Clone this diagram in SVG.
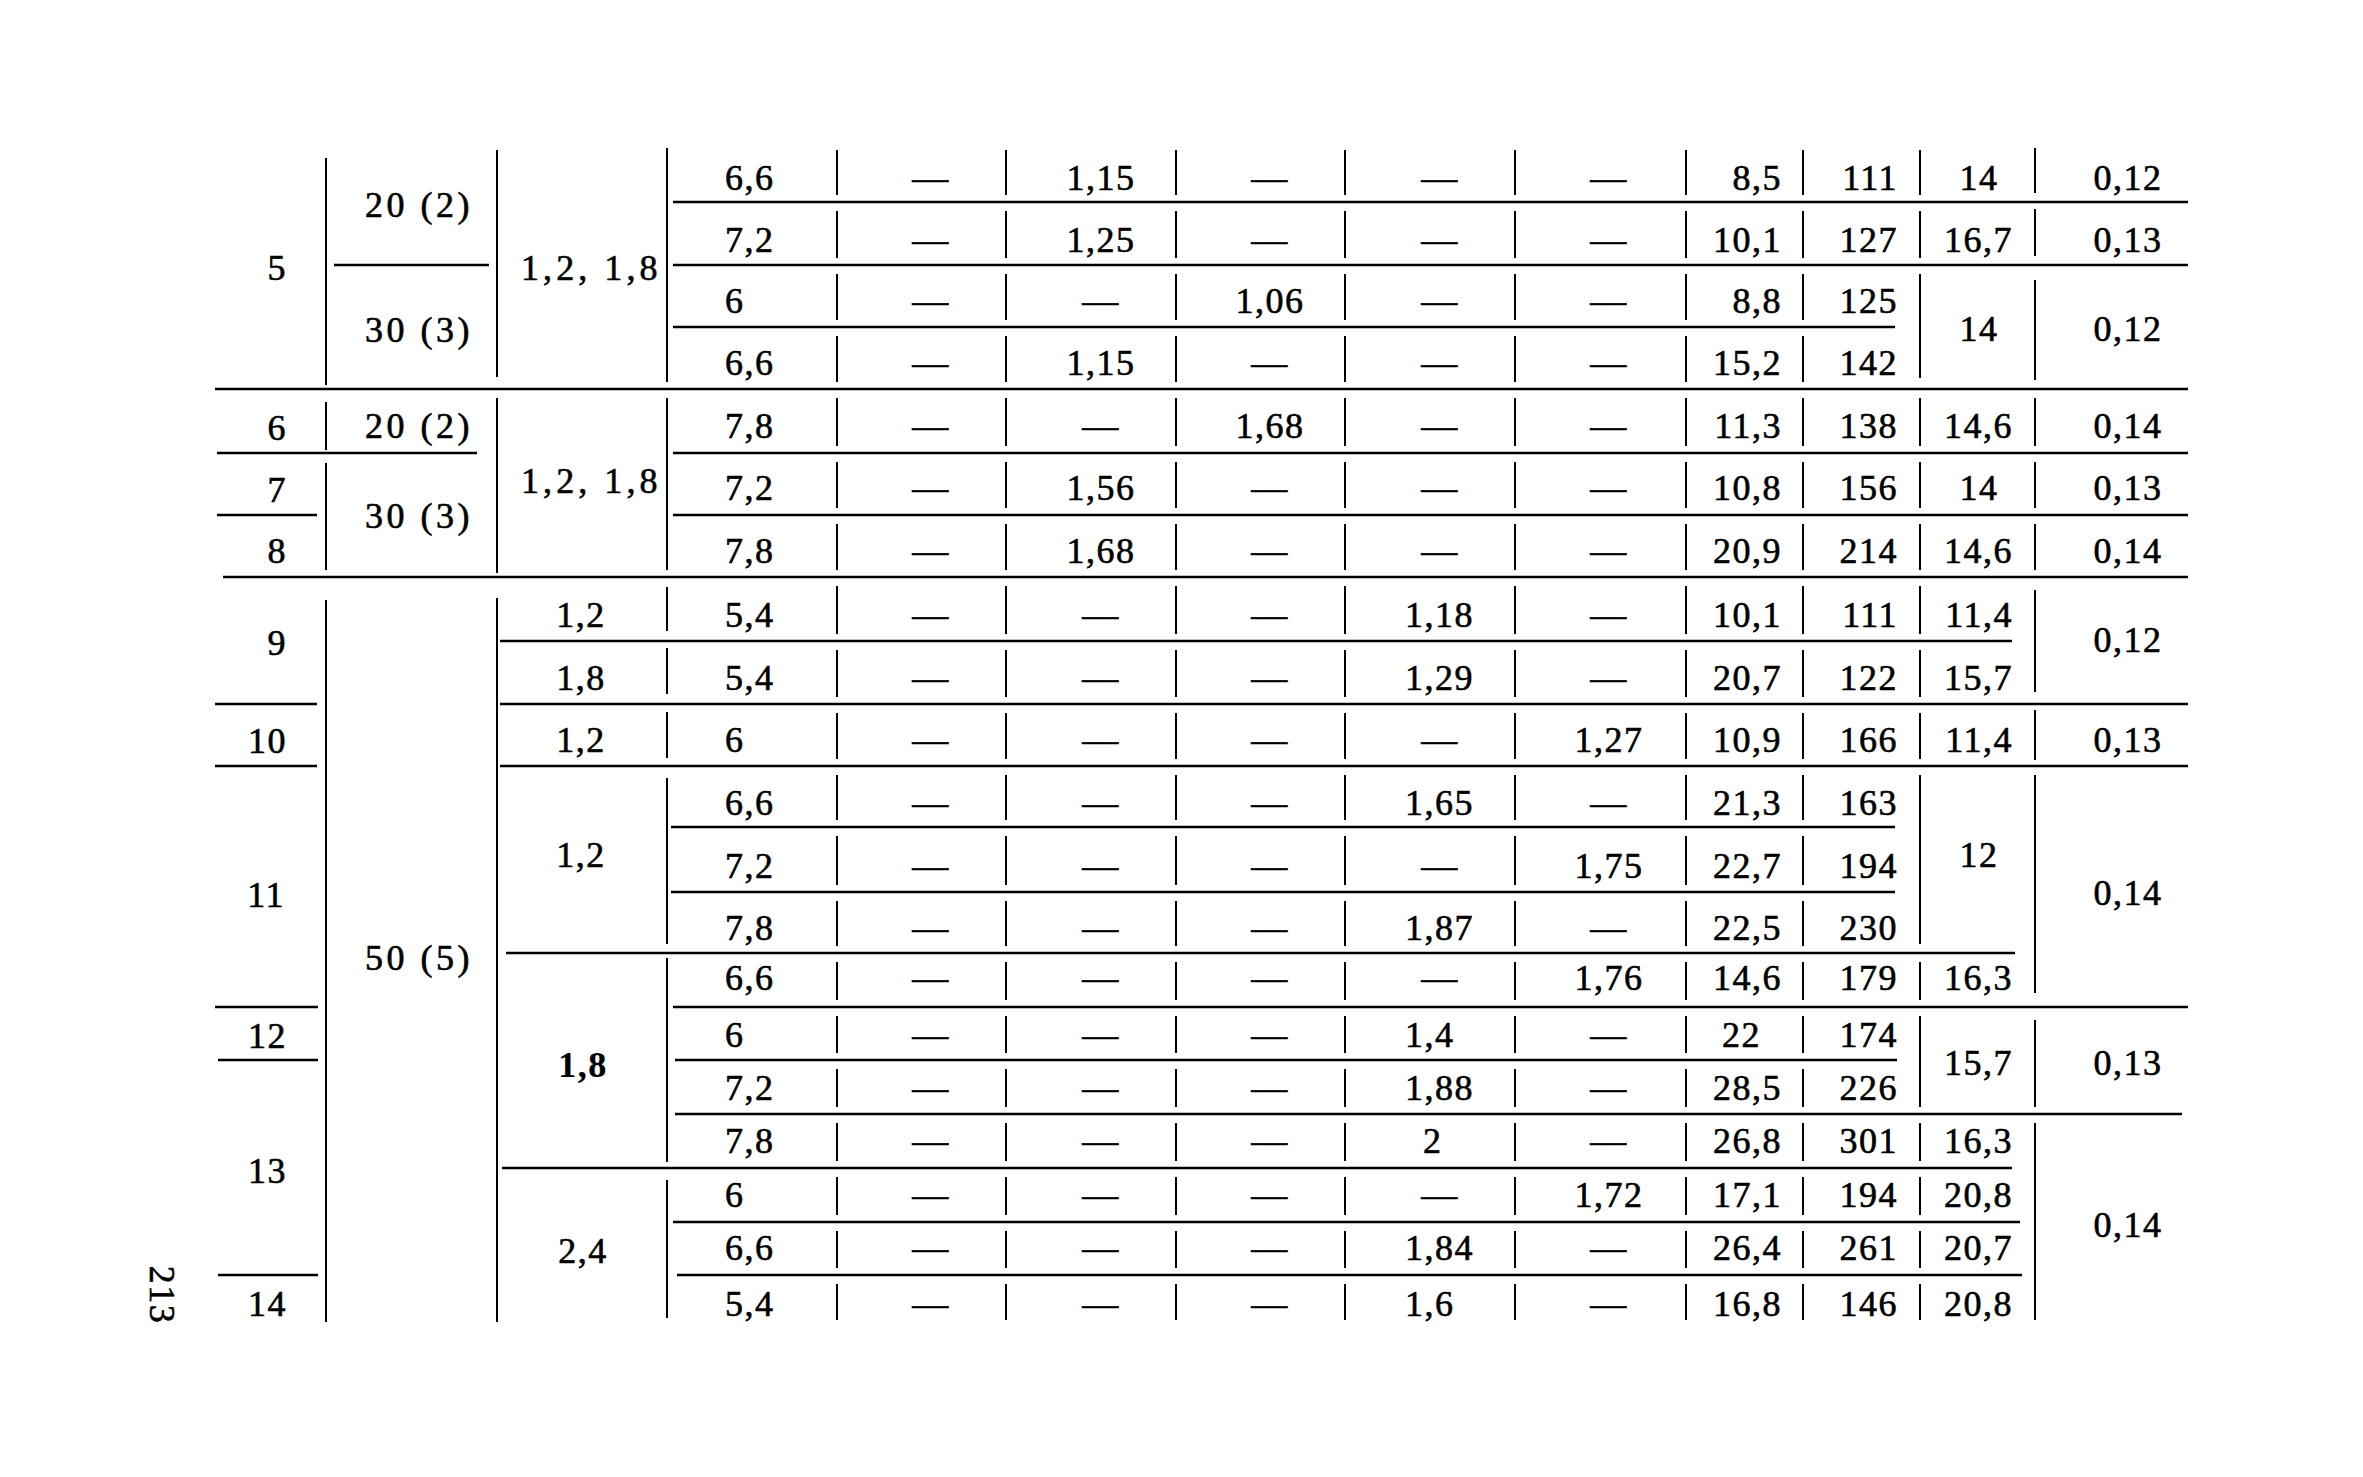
<svg xmlns="http://www.w3.org/2000/svg" width="2363" height="1477" viewBox="0 0 2363 1477">
<style>
text{font-family:"Liberation Serif","Times New Roman",serif;font-size:36px;fill:#000;stroke:#000;stroke-width:0.6;letter-spacing:1.5px}
.c{text-anchor:middle}
.e{text-anchor:end}
.b{font-weight:bold;stroke-width:0.2}
.h line{stroke:#000;stroke-width:2.6}
.v line{stroke:#000;stroke-width:2}
</style>
<rect width="2363" height="1477" fill="#fff"/>
<g id="rules">
<g class="h">
<line x1="673" y1="202" x2="2188" y2="202"/>
<line x1="334" y1="265" x2="489" y2="265"/>
<line x1="673" y1="265" x2="2188" y2="265"/>
<line x1="673" y1="327" x2="1895" y2="327"/>
<line x1="215" y1="389" x2="2188" y2="389"/>
<line x1="217" y1="453" x2="477" y2="453"/>
<line x1="673" y1="453" x2="2188" y2="453"/>
<line x1="217" y1="515" x2="317" y2="515"/>
<line x1="673" y1="515" x2="2188" y2="515"/>
<line x1="223" y1="577" x2="2188" y2="577"/>
<line x1="500" y1="641" x2="2012" y2="641"/>
<line x1="215" y1="704" x2="317" y2="704"/>
<line x1="500" y1="704" x2="2188" y2="704"/>
<line x1="215" y1="766" x2="317" y2="766"/>
<line x1="500" y1="766" x2="2188" y2="766"/>
<line x1="671" y1="827" x2="1895" y2="827"/>
<line x1="671" y1="892" x2="1895" y2="892"/>
<line x1="506" y1="953" x2="2015" y2="953"/>
<line x1="215" y1="1007" x2="318" y2="1007"/>
<line x1="673" y1="1007" x2="2188" y2="1007"/>
<line x1="218" y1="1060" x2="318" y2="1060"/>
<line x1="675" y1="1060" x2="1897" y2="1060"/>
<line x1="675" y1="1114" x2="2182" y2="1114"/>
<line x1="502" y1="1168" x2="2012" y2="1168"/>
<line x1="673" y1="1222" x2="2020" y2="1222"/>
<line x1="218" y1="1275" x2="318" y2="1275"/>
<line x1="677" y1="1275" x2="2022" y2="1275"/>
</g>
<g class="v">
<line x1="326" y1="158" x2="326" y2="385"/>
<line x1="326" y1="402" x2="326" y2="450"/>
<line x1="326" y1="463" x2="326" y2="570"/>
<line x1="326" y1="600" x2="326" y2="1322"/>
<line x1="497" y1="150" x2="497" y2="377"/>
<line x1="497" y1="398" x2="497" y2="573"/>
<line x1="497" y1="598" x2="497" y2="1322"/>
<line x1="667" y1="148" x2="667" y2="382"/>
<line x1="667" y1="398" x2="667" y2="570"/>
<line x1="667" y1="587" x2="667" y2="631"/>
<line x1="667" y1="648" x2="667" y2="694"/>
<line x1="667" y1="712" x2="667" y2="758"/>
<line x1="667" y1="778" x2="667" y2="944"/>
<line x1="667" y1="958" x2="667" y2="1162"/>
<line x1="667" y1="1180" x2="667" y2="1318"/>
</g>
<g class="v">
<line x1="837" y1="150" x2="837" y2="195"/><line x1="837" y1="211" x2="837" y2="258"/><line x1="837" y1="274" x2="837" y2="320"/><line x1="837" y1="336" x2="837" y2="382"/><line x1="837" y1="398" x2="837" y2="446"/><line x1="837" y1="462" x2="837" y2="508"/><line x1="837" y1="524" x2="837" y2="570"/><line x1="837" y1="586" x2="837" y2="634"/><line x1="837" y1="650" x2="837" y2="697"/><line x1="837" y1="713" x2="837" y2="759"/><line x1="837" y1="775" x2="837" y2="820"/><line x1="837" y1="836" x2="837" y2="885"/><line x1="837" y1="901" x2="837" y2="946"/><line x1="837" y1="962" x2="837" y2="1000"/><line x1="837" y1="1016" x2="837" y2="1053"/><line x1="837" y1="1069" x2="837" y2="1107"/><line x1="837" y1="1123" x2="837" y2="1161"/><line x1="837" y1="1177" x2="837" y2="1215"/><line x1="837" y1="1231" x2="837" y2="1268"/><line x1="837" y1="1284" x2="837" y2="1320"/>
<line x1="1006" y1="150" x2="1006" y2="195"/><line x1="1006" y1="211" x2="1006" y2="258"/><line x1="1006" y1="274" x2="1006" y2="320"/><line x1="1006" y1="336" x2="1006" y2="382"/><line x1="1006" y1="398" x2="1006" y2="446"/><line x1="1006" y1="462" x2="1006" y2="508"/><line x1="1006" y1="524" x2="1006" y2="570"/><line x1="1006" y1="586" x2="1006" y2="634"/><line x1="1006" y1="650" x2="1006" y2="697"/><line x1="1006" y1="713" x2="1006" y2="759"/><line x1="1006" y1="775" x2="1006" y2="820"/><line x1="1006" y1="836" x2="1006" y2="885"/><line x1="1006" y1="901" x2="1006" y2="946"/><line x1="1006" y1="962" x2="1006" y2="1000"/><line x1="1006" y1="1016" x2="1006" y2="1053"/><line x1="1006" y1="1069" x2="1006" y2="1107"/><line x1="1006" y1="1123" x2="1006" y2="1161"/><line x1="1006" y1="1177" x2="1006" y2="1215"/><line x1="1006" y1="1231" x2="1006" y2="1268"/><line x1="1006" y1="1284" x2="1006" y2="1320"/>
<line x1="1176" y1="150" x2="1176" y2="195"/><line x1="1176" y1="211" x2="1176" y2="258"/><line x1="1176" y1="274" x2="1176" y2="320"/><line x1="1176" y1="336" x2="1176" y2="382"/><line x1="1176" y1="398" x2="1176" y2="446"/><line x1="1176" y1="462" x2="1176" y2="508"/><line x1="1176" y1="524" x2="1176" y2="570"/><line x1="1176" y1="586" x2="1176" y2="634"/><line x1="1176" y1="650" x2="1176" y2="697"/><line x1="1176" y1="713" x2="1176" y2="759"/><line x1="1176" y1="775" x2="1176" y2="820"/><line x1="1176" y1="836" x2="1176" y2="885"/><line x1="1176" y1="901" x2="1176" y2="946"/><line x1="1176" y1="962" x2="1176" y2="1000"/><line x1="1176" y1="1016" x2="1176" y2="1053"/><line x1="1176" y1="1069" x2="1176" y2="1107"/><line x1="1176" y1="1123" x2="1176" y2="1161"/><line x1="1176" y1="1177" x2="1176" y2="1215"/><line x1="1176" y1="1231" x2="1176" y2="1268"/><line x1="1176" y1="1284" x2="1176" y2="1320"/>
<line x1="1345" y1="150" x2="1345" y2="195"/><line x1="1345" y1="211" x2="1345" y2="258"/><line x1="1345" y1="274" x2="1345" y2="320"/><line x1="1345" y1="336" x2="1345" y2="382"/><line x1="1345" y1="398" x2="1345" y2="446"/><line x1="1345" y1="462" x2="1345" y2="508"/><line x1="1345" y1="524" x2="1345" y2="570"/><line x1="1345" y1="586" x2="1345" y2="634"/><line x1="1345" y1="650" x2="1345" y2="697"/><line x1="1345" y1="713" x2="1345" y2="759"/><line x1="1345" y1="775" x2="1345" y2="820"/><line x1="1345" y1="836" x2="1345" y2="885"/><line x1="1345" y1="901" x2="1345" y2="946"/><line x1="1345" y1="962" x2="1345" y2="1000"/><line x1="1345" y1="1016" x2="1345" y2="1053"/><line x1="1345" y1="1069" x2="1345" y2="1107"/><line x1="1345" y1="1123" x2="1345" y2="1161"/><line x1="1345" y1="1177" x2="1345" y2="1215"/><line x1="1345" y1="1231" x2="1345" y2="1268"/><line x1="1345" y1="1284" x2="1345" y2="1320"/>
<line x1="1515" y1="150" x2="1515" y2="195"/><line x1="1515" y1="211" x2="1515" y2="258"/><line x1="1515" y1="274" x2="1515" y2="320"/><line x1="1515" y1="336" x2="1515" y2="382"/><line x1="1515" y1="398" x2="1515" y2="446"/><line x1="1515" y1="462" x2="1515" y2="508"/><line x1="1515" y1="524" x2="1515" y2="570"/><line x1="1515" y1="586" x2="1515" y2="634"/><line x1="1515" y1="650" x2="1515" y2="697"/><line x1="1515" y1="713" x2="1515" y2="759"/><line x1="1515" y1="775" x2="1515" y2="820"/><line x1="1515" y1="836" x2="1515" y2="885"/><line x1="1515" y1="901" x2="1515" y2="946"/><line x1="1515" y1="962" x2="1515" y2="1000"/><line x1="1515" y1="1016" x2="1515" y2="1053"/><line x1="1515" y1="1069" x2="1515" y2="1107"/><line x1="1515" y1="1123" x2="1515" y2="1161"/><line x1="1515" y1="1177" x2="1515" y2="1215"/><line x1="1515" y1="1231" x2="1515" y2="1268"/><line x1="1515" y1="1284" x2="1515" y2="1320"/>
<line x1="1686" y1="150" x2="1686" y2="195"/><line x1="1686" y1="211" x2="1686" y2="258"/><line x1="1686" y1="274" x2="1686" y2="320"/><line x1="1686" y1="336" x2="1686" y2="382"/><line x1="1686" y1="398" x2="1686" y2="446"/><line x1="1686" y1="462" x2="1686" y2="508"/><line x1="1686" y1="524" x2="1686" y2="570"/><line x1="1686" y1="586" x2="1686" y2="634"/><line x1="1686" y1="650" x2="1686" y2="697"/><line x1="1686" y1="713" x2="1686" y2="759"/><line x1="1686" y1="775" x2="1686" y2="820"/><line x1="1686" y1="836" x2="1686" y2="885"/><line x1="1686" y1="901" x2="1686" y2="946"/><line x1="1686" y1="962" x2="1686" y2="1000"/><line x1="1686" y1="1016" x2="1686" y2="1053"/><line x1="1686" y1="1069" x2="1686" y2="1107"/><line x1="1686" y1="1123" x2="1686" y2="1161"/><line x1="1686" y1="1177" x2="1686" y2="1215"/><line x1="1686" y1="1231" x2="1686" y2="1268"/><line x1="1686" y1="1284" x2="1686" y2="1320"/>
<line x1="1803" y1="150" x2="1803" y2="195"/><line x1="1803" y1="211" x2="1803" y2="258"/><line x1="1803" y1="274" x2="1803" y2="320"/><line x1="1803" y1="336" x2="1803" y2="382"/><line x1="1803" y1="398" x2="1803" y2="446"/><line x1="1803" y1="462" x2="1803" y2="508"/><line x1="1803" y1="524" x2="1803" y2="570"/><line x1="1803" y1="586" x2="1803" y2="634"/><line x1="1803" y1="650" x2="1803" y2="697"/><line x1="1803" y1="713" x2="1803" y2="759"/><line x1="1803" y1="775" x2="1803" y2="820"/><line x1="1803" y1="836" x2="1803" y2="885"/><line x1="1803" y1="901" x2="1803" y2="946"/><line x1="1803" y1="962" x2="1803" y2="1000"/><line x1="1803" y1="1016" x2="1803" y2="1053"/><line x1="1803" y1="1069" x2="1803" y2="1107"/><line x1="1803" y1="1123" x2="1803" y2="1161"/><line x1="1803" y1="1177" x2="1803" y2="1215"/><line x1="1803" y1="1231" x2="1803" y2="1268"/><line x1="1803" y1="1284" x2="1803" y2="1320"/>
<line x1="1920" y1="150" x2="1920" y2="195"/><line x1="1920" y1="211" x2="1920" y2="258"/><line x1="1920" y1="274" x2="1920" y2="378"/><line x1="1920" y1="398" x2="1920" y2="446"/><line x1="1920" y1="462" x2="1920" y2="508"/><line x1="1920" y1="524" x2="1920" y2="570"/><line x1="1920" y1="586" x2="1920" y2="634"/><line x1="1920" y1="650" x2="1920" y2="697"/><line x1="1920" y1="713" x2="1920" y2="759"/><line x1="1920" y1="775" x2="1920" y2="944"/><line x1="1920" y1="962" x2="1920" y2="1000"/><line x1="1920" y1="1016" x2="1920" y2="1107"/><line x1="1920" y1="1123" x2="1920" y2="1161"/><line x1="1920" y1="1177" x2="1920" y2="1215"/><line x1="1920" y1="1231" x2="1920" y2="1268"/><line x1="1920" y1="1284" x2="1920" y2="1320"/>
<line x1="2035" y1="148" x2="2035" y2="193"/><line x1="2035" y1="209" x2="2035" y2="256"/><line x1="2035" y1="280" x2="2035" y2="380"/><line x1="2035" y1="398" x2="2035" y2="446"/><line x1="2035" y1="462" x2="2035" y2="508"/><line x1="2035" y1="524" x2="2035" y2="570"/><line x1="2035" y1="590" x2="2035" y2="692"/><line x1="2035" y1="710" x2="2035" y2="760"/><line x1="2035" y1="775" x2="2035" y2="993"/><line x1="2035" y1="1020" x2="2035" y2="1107"/><line x1="2035" y1="1123" x2="2035" y2="1320"/>
</g>
</g>

<g id="left-labels">
<text class="e" x="287" y="280">5</text>
<text class="e" x="287" y="440">6</text>
<text class="e" x="287" y="502">7</text>
<text class="e" x="287" y="563">8</text>
<text class="e" x="287" y="655">9</text>
<text class="e" x="287" y="753">10</text>
<text class="e" x="285" y="907">11</text>
<text class="e" x="287" y="1048">12</text>
<text class="e" x="287" y="1183">13</text>
<text class="e" x="287" y="1316">14</text>
<text class="c" x="418" y="217" textLength="106" lengthAdjust="spacing">20 (2)</text>
<text class="c" x="418" y="342" textLength="106" lengthAdjust="spacing">30 (3)</text>
<text class="c" x="418" y="438" textLength="106" lengthAdjust="spacing">20 (2)</text>
<text class="c" x="418" y="528" textLength="106" lengthAdjust="spacing">30 (3)</text>
<text class="c" x="418" y="970" textLength="106" lengthAdjust="spacing">50 (5)</text>
<text class="c" x="590" y="280" textLength="138" lengthAdjust="spacing">1,2, 1,8</text>
<text class="c" x="590" y="493" textLength="138" lengthAdjust="spacing">1,2, 1,8</text>
<text class="c" x="581" y="627">1,2</text>
<text class="c" x="581" y="690">1,8</text>
<text class="c" x="581" y="752">1,2</text>
<text class="c" x="581" y="867">1,2</text>
<text class="c b" x="583" y="1077">1,8</text>
<text class="c" x="583" y="1263">2,4</text>
<text class="c" transform="translate(150,1295) rotate(90)">213</text>
</g>

<g id="row-5">
<text x="725" y="190">6,6</text><text class="c" x="931" y="190">—</text><text class="c" x="1101" y="190">1,15</text><text class="c" x="1270" y="190">—</text><text class="c" x="1440" y="190">—</text><text class="c" x="1609" y="190">—</text><text class="e" x="1782" y="190">8,5</text><text class="e" x="1898" y="190">111</text><text class="c" x="1979" y="190">14</text><text class="c" x="2128" y="190">0,12</text>
<text x="725" y="252">7,2</text><text class="c" x="931" y="252">—</text><text class="c" x="1101" y="252">1,25</text><text class="c" x="1270" y="252">—</text><text class="c" x="1440" y="252">—</text><text class="c" x="1609" y="252">—</text><text class="e" x="1782" y="252">10,1</text><text class="e" x="1898" y="252">127</text><text class="e" x="2013" y="252">16,7</text><text class="c" x="2128" y="252">0,13</text>
<text x="725" y="313">6</text><text class="c" x="931" y="313">—</text><text class="c" x="1101" y="313">—</text><text class="c" x="1270" y="313">1,06</text><text class="c" x="1440" y="313">—</text><text class="c" x="1609" y="313">—</text><text class="e" x="1782" y="313">8,8</text><text class="e" x="1898" y="313">125</text>
<text x="725" y="375">6,6</text><text class="c" x="931" y="375">—</text><text class="c" x="1101" y="375">1,15</text><text class="c" x="1270" y="375">—</text><text class="c" x="1440" y="375">—</text><text class="c" x="1609" y="375">—</text><text class="e" x="1782" y="375">15,2</text><text class="e" x="1898" y="375">142</text>
<text class="c" x="1979" y="341">14</text><text class="c" x="2128" y="341">0,12</text>
</g>
<g id="row-6">
<text x="725" y="438">7,8</text><text class="c" x="931" y="438">—</text><text class="c" x="1101" y="438">—</text><text class="c" x="1270" y="438">1,68</text><text class="c" x="1440" y="438">—</text><text class="c" x="1609" y="438">—</text><text class="e" x="1782" y="438">11,3</text><text class="e" x="1898" y="438">138</text><text class="e" x="2013" y="438">14,6</text><text class="c" x="2128" y="438">0,14</text>
</g>
<g id="row-7">
<text x="725" y="500">7,2</text><text class="c" x="931" y="500">—</text><text class="c" x="1101" y="500">1,56</text><text class="c" x="1270" y="500">—</text><text class="c" x="1440" y="500">—</text><text class="c" x="1609" y="500">—</text><text class="e" x="1782" y="500">10,8</text><text class="e" x="1898" y="500">156</text><text class="c" x="1979" y="500">14</text><text class="c" x="2128" y="500">0,13</text>
</g>
<g id="row-8">
<text x="725" y="563">7,8</text><text class="c" x="931" y="563">—</text><text class="c" x="1101" y="563">1,68</text><text class="c" x="1270" y="563">—</text><text class="c" x="1440" y="563">—</text><text class="c" x="1609" y="563">—</text><text class="e" x="1782" y="563">20,9</text><text class="e" x="1898" y="563">214</text><text class="e" x="2013" y="563">14,6</text><text class="c" x="2128" y="563">0,14</text>
</g>
<g id="row-9">
<text x="725" y="627">5,4</text><text class="c" x="931" y="627">—</text><text class="c" x="1101" y="627">—</text><text class="c" x="1270" y="627">—</text><text x="1405" y="627">1,18</text><text class="c" x="1609" y="627">—</text><text class="e" x="1782" y="627">10,1</text><text class="e" x="1898" y="627">111</text><text class="e" x="2013" y="627">11,4</text>
<text x="725" y="690">5,4</text><text class="c" x="931" y="690">—</text><text class="c" x="1101" y="690">—</text><text class="c" x="1270" y="690">—</text><text x="1405" y="690">1,29</text><text class="c" x="1609" y="690">—</text><text class="e" x="1782" y="690">20,7</text><text class="e" x="1898" y="690">122</text><text class="e" x="2013" y="690">15,7</text>
<text class="c" x="2128" y="652">0,12</text>
</g>
<g id="row-10">
<text x="725" y="752">6</text><text class="c" x="931" y="752">—</text><text class="c" x="1101" y="752">—</text><text class="c" x="1270" y="752">—</text><text class="c" x="1440" y="752">—</text><text class="c" x="1609" y="752">1,27</text><text class="e" x="1782" y="752">10,9</text><text class="e" x="1898" y="752">166</text><text class="e" x="2013" y="752">11,4</text><text class="c" x="2128" y="752">0,13</text>
</g>
<g id="row-11">
<text x="725" y="815">6,6</text><text class="c" x="931" y="815">—</text><text class="c" x="1101" y="815">—</text><text class="c" x="1270" y="815">—</text><text x="1405" y="815">1,65</text><text class="c" x="1609" y="815">—</text><text class="e" x="1782" y="815">21,3</text><text class="e" x="1898" y="815">163</text>
<text x="725" y="878">7,2</text><text class="c" x="931" y="878">—</text><text class="c" x="1101" y="878">—</text><text class="c" x="1270" y="878">—</text><text class="c" x="1440" y="878">—</text><text class="c" x="1609" y="878">1,75</text><text class="e" x="1782" y="878">22,7</text><text class="e" x="1898" y="878">194</text>
<text x="725" y="940">7,8</text><text class="c" x="931" y="940">—</text><text class="c" x="1101" y="940">—</text><text class="c" x="1270" y="940">—</text><text x="1405" y="940">1,87</text><text class="c" x="1609" y="940">—</text><text class="e" x="1782" y="940">22,5</text><text class="e" x="1898" y="940">230</text>
<text x="725" y="990">6,6</text><text class="c" x="931" y="990">—</text><text class="c" x="1101" y="990">—</text><text class="c" x="1270" y="990">—</text><text class="c" x="1440" y="990">—</text><text class="c" x="1609" y="990">1,76</text><text class="e" x="1782" y="990">14,6</text><text class="e" x="1898" y="990">179</text><text class="e" x="2013" y="990">16,3</text>
<text class="c" x="1979" y="867">12</text><text class="c" x="2128" y="905">0,14</text>
</g>
<g id="row-12">
<text x="725" y="1047">6</text><text class="c" x="931" y="1047">—</text><text class="c" x="1101" y="1047">—</text><text class="c" x="1270" y="1047">—</text><text x="1405" y="1047">1,4</text><text class="c" x="1609" y="1047">—</text><text class="e" x="1761" y="1047">22</text><text class="e" x="1898" y="1047">174</text>
<text x="725" y="1100">7,2</text><text class="c" x="931" y="1100">—</text><text class="c" x="1101" y="1100">—</text><text class="c" x="1270" y="1100">—</text><text x="1405" y="1100">1,88</text><text class="c" x="1609" y="1100">—</text><text class="e" x="1782" y="1100">28,5</text><text class="e" x="1898" y="1100">226</text>
<text class="e" x="2013" y="1075">15,7</text><text class="c" x="2128" y="1075">0,13</text>
</g>
<g id="row-13">
<text x="725" y="1153">7,8</text><text class="c" x="931" y="1153">—</text><text class="c" x="1101" y="1153">—</text><text class="c" x="1270" y="1153">—</text><text x="1423" y="1153">2</text><text class="c" x="1609" y="1153">—</text><text class="e" x="1782" y="1153">26,8</text><text class="e" x="1898" y="1153">301</text><text class="e" x="2013" y="1153">16,3</text>
<text x="725" y="1207">6</text><text class="c" x="931" y="1207">—</text><text class="c" x="1101" y="1207">—</text><text class="c" x="1270" y="1207">—</text><text class="c" x="1440" y="1207">—</text><text class="c" x="1609" y="1207">1,72</text><text class="e" x="1782" y="1207">17,1</text><text class="e" x="1898" y="1207">194</text><text class="e" x="2013" y="1207">20,8</text>
<text x="725" y="1260">6,6</text><text class="c" x="931" y="1260">—</text><text class="c" x="1101" y="1260">—</text><text class="c" x="1270" y="1260">—</text><text x="1405" y="1260">1,84</text><text class="c" x="1609" y="1260">—</text><text class="e" x="1782" y="1260">26,4</text><text class="e" x="1898" y="1260">261</text><text class="e" x="2013" y="1260">20,7</text>
<text class="c" x="2128" y="1237">0,14</text>
</g>
<g id="row-14">
<text x="725" y="1316">5,4</text><text class="c" x="931" y="1316">—</text><text class="c" x="1101" y="1316">—</text><text class="c" x="1270" y="1316">—</text><text x="1405" y="1316">1,6</text><text class="c" x="1609" y="1316">—</text><text class="e" x="1782" y="1316">16,8</text><text class="e" x="1898" y="1316">146</text><text class="e" x="2013" y="1316">20,8</text>
</g>
</svg>
